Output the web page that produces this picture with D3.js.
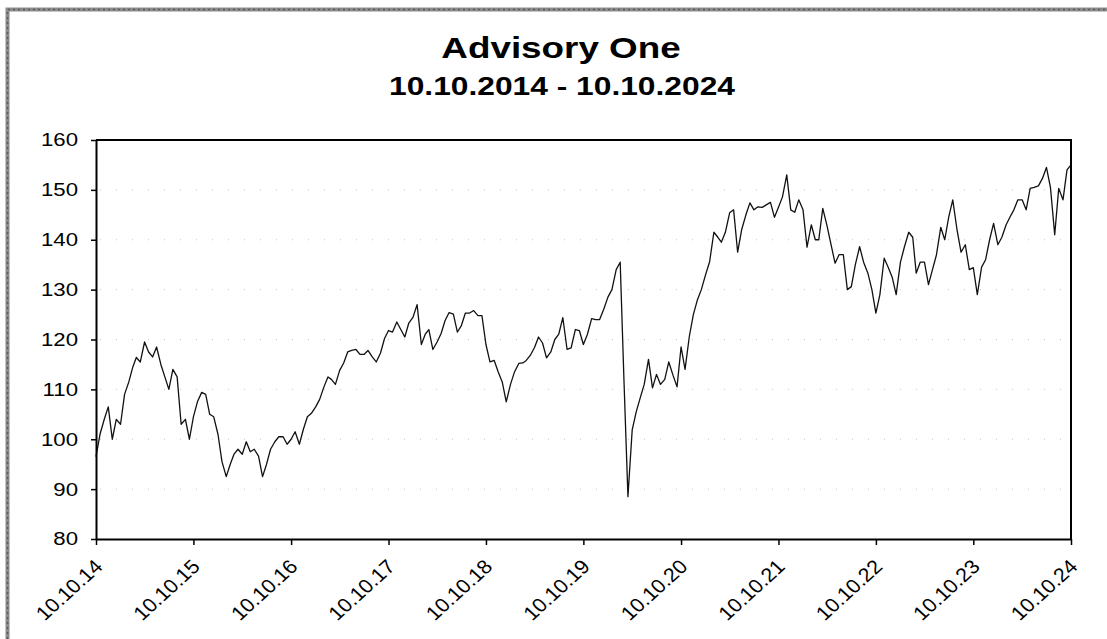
<!DOCTYPE html>
<html>
<head>
<meta charset="utf-8">
<script src="https://cdn.jsdelivr.net/npm/d3@7"></script>
<style>
  body { margin: 0; background: #fff; }
  svg { display: block; font-family: "Liberation Sans", Arial, sans-serif; }
  .line { fill: none; stroke: #111; stroke-width: 1.3; stroke-linejoin: round; }
  .grid line { stroke: #c4c4c4; stroke-width: 1; stroke-dasharray: 1,15; }
  .axis path, .axis line { stroke: #000; }
  .axis text { fill: #000; font-size: 18.5px; }
</style>
</head>
<body>
<script>
var width = 1107,
    height = 639;

var title = "Advisory One",
    subtitle = "10.10.2014 - 10.10.2024";

var yTicks = [80, 90, 100, 110, 120, 130, 140, 150, 160];
var tickYears = [2014, 2015, 2016, 2017, 2018, 2019, 2020, 2021, 2022, 2023, 2024];

// one value on the 10th and one on the 25th of every month
var values = [
  96.5, 101, 104, 106.5, 100, 104, 103, 109, 111.5, 114.5, 116.4, 115.5,
  119.5, 117.5, 116.5, 118.5, 115, 112.5, 110, 114, 112.5, 103, 104, 100,
  104.5, 107.5, 109.4, 109, 105, 104.5, 101, 95.5, 92.5, 95, 97, 98,
  97, 99.5, 97.5, 98, 96.6, 92.5, 95, 98, 99.5, 100.5, 100.5, 99,
  100, 101.5, 99, 102, 104.5, 105.2, 106.5, 108, 110.5, 112.5, 112, 111,
  113.8, 115.3, 117.5, 117.8, 118, 117, 117, 117.8, 116.5, 115.5, 117.3, 120.2,
  121.8, 121.5, 123.5, 122, 120.5, 123.3, 124.5, 127, 119, 121.1, 122, 118,
  119.5, 121.2, 123.8, 125.4, 125.1, 121.5, 122.8, 125.3, 125.3, 125.8, 124.8, 124.8,
  119, 115.5, 115.8, 113.5, 111.5, 107.5, 111, 113.5, 115.2, 115.3, 115.8, 116.8,
  118.4, 120.5, 119.3, 116.3, 117.5, 120, 121.1, 124.4, 118, 118.3, 122, 121.8,
  119, 121, 124.2, 124, 124, 126, 128.5, 130, 134, 135.5, 112, 88.5,
  101.9, 105.5, 108.3, 111, 116, 110.3, 113, 111, 112, 115.5, 112.8, 110.5,
  118.5, 114, 120.6, 125, 127.9, 130, 133, 135.6, 141.5, 140.5, 139.5, 141.5,
  145.4, 146, 137.5, 142, 145, 147.4, 146, 146.6, 146.5, 147, 147.5, 144.5,
  146.5, 148.6, 153, 146, 145.5, 148, 146, 138.5, 143, 140, 140, 146.3,
  142.8, 139, 135.3, 137, 137, 130, 130.6, 135, 138.6, 135.5, 133.3, 130,
  125.3, 129, 136.3, 134.5, 132.5, 129, 135.5, 138.6, 141.5, 140.5, 133.3, 135.5,
  135.5, 131, 134, 137, 142.5, 140, 144.6, 148, 142, 137.5, 139, 134,
  134.4, 129, 134.5, 136, 140, 143.3, 139, 140.5, 143, 144.6, 146, 148,
  148, 146, 150.3, 150.5, 150.8, 152.3, 154.5, 150.5, 141, 150.3, 148, 154,
  155
];

var dates = values.map(function(v, i) {
  return new Date(2014, 9 + Math.floor(i / 2), i % 2 ? 25 : 10);
});

var margin = {top: 140, right: 36, bottom: 100, left: 96};

var x = d3.scaleTime()
    .domain([new Date(2014, 9, 10), new Date(2024, 9, 10)])
    .range([margin.left, width - margin.right]);

var y = d3.scaleLinear()
    .domain([80, 160])
    .range([height - margin.bottom, margin.top]);

var svg = d3.select("body").append("svg")
    .attr("width", width)
    .attr("height", height);

// scanned page frame
svg.append("path")
    .attr("d", "M7.5," + height + "V9.5H" + width)
    .attr("fill", "none")
    .attr("stroke", "#8c8c8c")
    .attr("stroke-width", 4);
svg.append("path")
    .attr("d", "M7.5," + height + "V9.5H" + width)
    .attr("fill", "none")
    .attr("stroke", "#5a5a5a")
    .attr("stroke-width", 1.5)
    .attr("stroke-dasharray", "2,3");

// titles, the scan is a bit wider than tall
svg.append("text")
    .attr("transform", "translate(561,58) scale(1.27,1)")
    .attr("text-anchor", "middle")
    .style("font-size", "29px")
    .style("font-weight", "bold")
    .text(title);

svg.append("text")
    .attr("transform", "translate(562,95) scale(1.27,1)")
    .attr("text-anchor", "middle")
    .style("font-size", "25px")
    .style("font-weight", "bold")
    .text(subtitle);

// dotted grid
svg.append("g").attr("class", "grid")
  .selectAll("line").data(yTicks.slice(1, -1))
  .enter().append("line")
    .attr("x1", x.range()[0] + 4)
    .attr("x2", x.range()[1] - 4)
    .attr("y1", function(d) { return y(d); })
    .attr("y2", function(d) { return y(d); });

// series
var line = d3.line()
    .x(function(d, i) { return x(dates[i]); })
    .y(function(d) { return y(d); });

svg.append("path")
    .datum(values)
    .attr("class", "line")
    .attr("d", line);

// axes
var yAxis = svg.append("g")
    .attr("class", "axis")
    .attr("transform", "translate(" + margin.left + ",0)")
    .call(d3.axisLeft(y).tickValues(yTicks).tickSize(5).tickSizeOuter(0));

yAxis.select(".domain").attr("stroke-width", 2);
yAxis.selectAll(".tick line").attr("stroke-width", 1.5);
yAxis.selectAll(".tick text")
    .attr("x", 0)
    .attr("transform", "translate(-18,0) scale(1.2,1)");

var xAxis = svg.append("g")
    .attr("class", "axis")
    .attr("transform", "translate(0," + y.range()[0] + ")")
    .call(d3.axisBottom(x)
      .tickValues(tickYears.map(function(yr) { return new Date(yr, 9, 10); }))
      .tickFormat(d3.timeFormat("%d.%m.%y"))
      .tickSize(6)
      .tickSizeOuter(0));

xAxis.select(".domain").attr("stroke-width", 2);
xAxis.selectAll(".tick line").attr("stroke-width", 1.5);
xAxis.selectAll(".tick text")
    .attr("x", 0)
    .attr("y", 0)
    .attr("dy", "0.35em")
    .attr("text-anchor", "end")
    .style("font-size", "19.5px")
    .attr("transform", "translate(2,24) scale(1.1,1) rotate(-45)");

// top and right edges of the plot box
svg.append("path")
    .attr("d", "M" + x.range()[0] + "," + y.range()[1] + "H" + x.range()[1] + "V" + y.range()[0])
    .attr("fill", "none")
    .attr("stroke", "#000")
    .attr("stroke-width", 2);
</script>
</body>
</html>
